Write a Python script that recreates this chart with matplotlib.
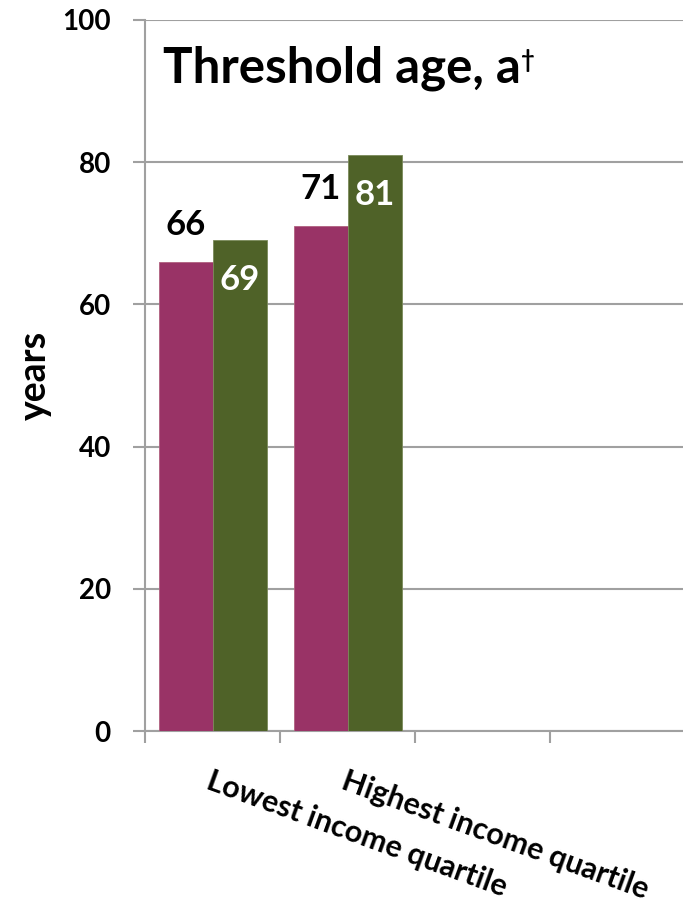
import matplotlib.pyplot as plt
import numpy as np

plt.rcParams['font.family'] = ['Lato', 'DejaVu Sans']
plt.rcParams['font.weight'] = 'bold'

categories = ["Lowest income quartile", "Highest income quartile", "", ""]
series_a = [66, 71]   # magenta bars
series_b = [69, 81]   # green bars
yticks = [0, 20, 40, 60, 80, 100]

col_a = "#993366"
col_b = "#4F6228"
grid_col = "#A0A0A0"

fig = plt.figure(figsize=(6.83, 9.08), dpi=100)
ax = fig.add_axes([145 / 683, 1 - 731 / 908, 540 / 683, 711 / 908])

w = 0.4
x = np.arange(len(series_a)) + 0.5
ax.bar(x - w / 2, series_a, width=w, color=col_a, edgecolor="#B0607F", linewidth=0.6, zorder=3)
ax.bar(x + w / 2, series_b, width=w, color=col_b, edgecolor="#7A8A5A", linewidth=0.6, zorder=3)

# value labels: black above the first bar, white inside the second
for xi, v in zip(x - w / 2, series_a):
    ax.text(xi, v + 5.2, str(v), ha="center", va="center", fontsize=25,
            fontweight="bold", color="black", zorder=4)
for xi, v in zip(x + w / 2, series_b):
    ax.text(xi, v - 5.6, str(v), ha="center", va="center", fontsize=25,
            fontweight="bold", color="white", zorder=4)

ax.set_xlim(0, 4)
ax.set_ylim(0, 100)
ax.set_yticks(yticks)
ax.set_yticklabels([str(t) for t in yticks], fontsize=20, fontweight="bold")
ax.yaxis.grid(True, color=grid_col, linewidth=1.5, zorder=0)
ax.set_xticks(np.arange(0, 5))
ax.set_xticklabels([])
ax.tick_params(axis="both", length=8.5, width=1.5, color=grid_col)
ax.tick_params(axis="y", pad=16)

for s in ["top", "right"]:
    ax.spines[s].set_visible(False)
for s in ["left", "bottom"]:
    ax.spines[s].set_color(grid_col)
    ax.spines[s].set_linewidth(1.5)

# rotated category labels below the axis
for i, lab in enumerate(categories):
    if lab:
        ax.text(i + 0.5, -5.0, lab, rotation=-20, rotation_mode="anchor",
                ha="left", va="top", fontsize=22, fontweight="bold",
                clip_on=False)

ax.yaxis.set_label_coords(-145 / 540 + 35 / 540, 0.5)
ax.set_ylabel("years", fontsize=27, fontweight="bold", va="center")

title = ax.text(0.13, 93.2, "Threshold age, a", ha="left", va="center",
                fontsize=35.5, fontweight="bold")

# small raised dagger after the title
fig.canvas.draw()
bb = title.get_window_extent()
ax.annotate("\u2020", xy=(bb.x1, bb.y1), xycoords="figure pixels",
            xytext=(1, -3), textcoords="offset pixels",
            ha="left", va="top", fontsize=17, fontweight="bold")

fig.savefig("out.png", dpi=100)
